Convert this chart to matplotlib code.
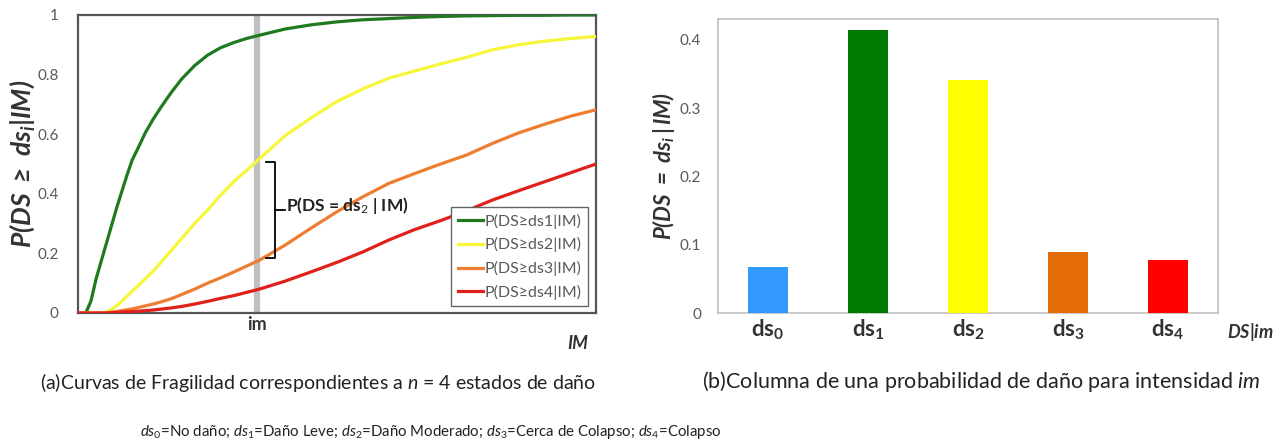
import matplotlib
matplotlib.use("Agg")
import matplotlib.pyplot as plt
import numpy as np

plt.rcParams['font.family'] = ['Lato', 'DejaVu Sans']
plt.rcParams['mathtext.fontset'] = 'custom'
plt.rcParams['mathtext.rm'] = 'Lato'
plt.rcParams['mathtext.it'] = 'Lato:italic'
plt.rcParams['mathtext.bf'] = 'Lato:bold'
plt.rcParams['mathtext.bfit'] = 'Lato:bold:italic'
plt.rcParams['mathtext.fallback'] = 'stixsans'

# ---------------- data ----------------
im_grid = [0.0, 0.015, 0.025, 0.035, 0.045, 0.055, 0.065, 0.075, 0.085, 0.095,
           0.105, 0.115, 0.13, 0.145, 0.16, 0.18, 0.2, 0.225, 0.25, 0.275,
           0.3, 0.325, 0.35, 0.4, 0.45, 0.5, 0.55, 0.6, 0.65, 0.7,
           0.75, 0.8, 0.85, 0.9, 0.95, 1.0]
p_ds1 = [0.0, 0.0, 0.04, 0.115, 0.175, 0.235, 0.295, 0.355, 0.41, 0.465,
         0.515, 0.55, 0.605, 0.65, 0.69, 0.74, 0.785, 0.83, 0.865, 0.89,
         0.907, 0.921, 0.932, 0.953, 0.967, 0.977, 0.984, 0.988, 0.992, 0.995,
         0.997, 0.998, 0.999, 0.999, 1.0, 1.0]
p_ds2 = [0.0, 0.0, 0.0, 0.0, 0.0, 0.003, 0.012, 0.025, 0.04, 0.057,
         0.074, 0.09, 0.115, 0.14, 0.17, 0.21, 0.25, 0.30, 0.345, 0.395,
         0.44, 0.478, 0.517, 0.595, 0.655, 0.71, 0.752, 0.788, 0.812, 0.836,
         0.858, 0.883, 0.90, 0.912, 0.921, 0.928]
p_ds3 = [0.0, 0.0, 0.0, 0.0, 0.0, 0.001, 0.003, 0.005, 0.008, 0.011,
         0.014, 0.018, 0.024, 0.03, 0.037, 0.048, 0.062, 0.08, 0.10, 0.118,
         0.137, 0.157, 0.177, 0.228, 0.285, 0.34, 0.39, 0.435, 0.468, 0.50,
         0.53, 0.569, 0.604, 0.633, 0.66, 0.682]
p_ds4 = [0.0, 0.0, 0.0, 0.0, 0.0, 0.0, 0.001, 0.002, 0.003, 0.004,
         0.005, 0.006, 0.008, 0.01, 0.013, 0.017, 0.022, 0.03, 0.039, 0.049,
         0.058, 0.069, 0.08, 0.107, 0.138, 0.17, 0.205, 0.245, 0.28, 0.31,
         0.343, 0.379, 0.41, 0.44, 0.47, 0.50]
curve_labels = ["P(DS≥ds1|IM)", "P(DS≥ds2|IM)", "P(DS≥ds3|IM)", "P(DS≥ds4|IM)"]
im_value = 0.346

bar_cats = [r"$\mathbf{ds_0}$", r"$\mathbf{ds_1}$", r"$\mathbf{ds_2}$",
            r"$\mathbf{ds_3}$", r"$\mathbf{ds_4}$"]
bar_vals = [0.067, 0.415, 0.341, 0.090, 0.078]

curve_colors = ["#1f7a1f", "#f6f63a", "#ee7d31", "#e0201b"]
bar_colors = ["#3399ff", "#007a00", "#ffff00", "#e36c09", "#ff0000"]

# ---------------- figure ----------------
fig = plt.figure(figsize=(12.8, 4.46), dpi=100)

# ---- left: fragility curves ----
ax1 = fig.add_axes([78/1280, 1-313/446, (596-78)/1280, (313-15)/446])
ax1.axvline(im_value, color="#bfbfbf", lw=4.5, zorder=1)
for ys, c, lab in zip([p_ds1, p_ds2, p_ds3, p_ds4], curve_colors, curve_labels):
    ax1.plot(im_grid, ys, color=c, lw=2.3, label=lab, zorder=3)
ax1.set_xlim(0, 1)
ax1.set_ylim(0, 1)
ax1.set_yticks([0, 0.2, 0.4, 0.6, 0.8, 1])
ax1.set_yticklabels(["0", "0.2", "0.4", "0.6", "0.8", "1"])
ax1.set_xticks([im_value])
ax1.set_xticklabels(["im"], fontsize=13, fontweight="bold", color="#333333")
ax1.tick_params(axis='both', length=0)
ax1.tick_params(axis='y', labelsize=11, labelcolor="#595959", pad=14)
ax1.tick_params(axis='x', pad=2)
for s in ax1.spines.values():
    s.set_color("#555555")
    s.set_linewidth(1.6)
ax1.set_ylabel(r"$\mathbfit{P(DS\ \geq\ ds_i|IM)}$", fontsize=19, color="#333333", labelpad=0)
ax1.text(0.985, -0.075, "IM", transform=ax1.transAxes, fontsize=13,
         fontweight="bold", fontstyle="italic", color="#333333", ha="right", va="top")

# bracket annotation
bx = 0.381
ax1.plot([0.362, bx, bx, 0.362], [0.508, 0.508, 0.183, 0.183], color="black", lw=1.3, zorder=4)
ax1.plot([bx, 0.40], [0.346, 0.346], color="black", lw=1.3, zorder=4)
ax1.text(0.402, 0.362, r"P(DS = ds$_2$ | IM)", fontsize=12.5, fontweight="bold",
         color="#222222", va="center", ha="left", zorder=5)

leg = ax1.legend(loc="lower right", bbox_to_anchor=(0.985, 0.022), fontsize=11.5,
                 frameon=True, fancybox=False, edgecolor="#666666", framealpha=1,
                 handlelength=1.6, handletextpad=0.1, labelspacing=0.55, borderpad=0.4,
                 borderaxespad=0)
for t in leg.get_texts():
    t.set_color("#595959")
leg.get_frame().set_linewidth(1.0)

# ---- right: bar chart ----
ax2 = fig.add_axes([718/1280, 1-313.3/446, 500/1280, (313.3-19.3)/446])
xpos = np.arange(len(bar_vals))
ax2.bar(xpos, bar_vals, width=0.4, color=bar_colors, zorder=3)
ax2.set_xlim(-0.5, 4.5)
ax2.set_ylim(0, 0.43)
ax2.set_yticks([0, 0.1, 0.2, 0.3, 0.4])
ax2.set_yticklabels(["0", "0.1", "0.2", "0.3", "0.4"])
ax2.set_xticks(xpos)
ax2.set_xticklabels(bar_cats, fontsize=16, color="#333333")
ax2.tick_params(axis='both', length=0)
ax2.tick_params(axis='y', labelsize=11, labelcolor="#595959", pad=12)
ax2.tick_params(axis='x', pad=3)
for s in ax2.spines.values():
    s.set_color("#bfbfbf")
    s.set_linewidth(1.2)
ax2.set_ylabel(r"$\mathbfit{P(DS\ =\ ds_i\,|\,IM)}$", fontsize=16, color="#333333", labelpad=2)
ax2.text(1.065, -0.025, r"$\mathbfit{DS|im}$", transform=ax2.transAxes, fontsize=13,
         color="#333333", ha="center", va="top")

# ---- captions ----
fig.text(318/1280, 1-382/446, r"(a)Curvas de Fragilidad correspondientes a $n$ = 4 estados de daño",
         fontsize=14, ha="center", va="center", color="#222222")
fig.text(981/1280, 1-382/446, r"(b)Columna de una probabilidad de daño para intensidad $im$",
         fontsize=15.5, ha="center", va="center", color="#222222")
fig.text(431/1280, 1-432/446,
         r"$ds_0$=No daño; $ds_1$=Daño Leve; $ds_2$=Daño Moderado; $ds_3$=Cerca de Colapso; $ds_4$=Colapso",
         fontsize=10.8, ha="center", va="center", color="#222222")

fig.savefig("out.png", dpi=100)
